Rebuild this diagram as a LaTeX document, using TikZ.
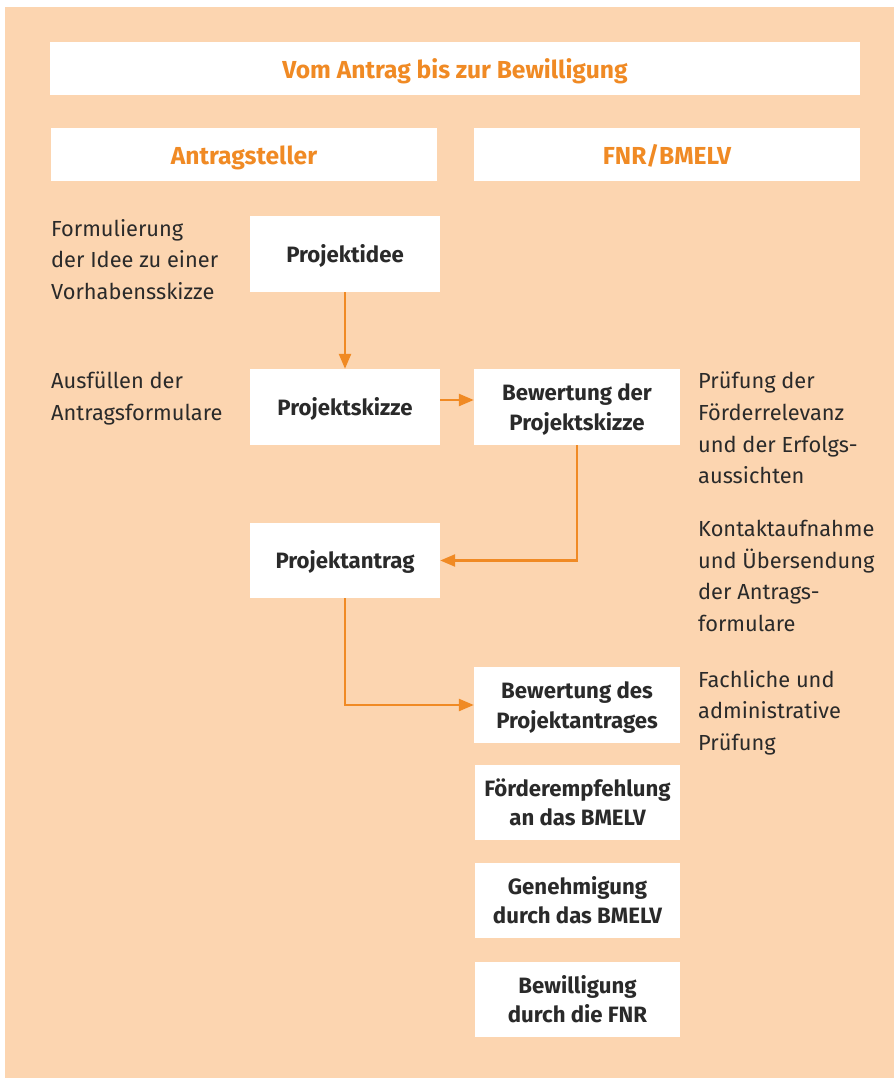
\documentclass[tikz,border=0pt]{standalone}
\usepackage{fontspec}
\setmainfont{Fira Sans}
\usepackage{xcolor}
\usetikzlibrary{arrows.meta}
\definecolor{peach}{HTML}{FCD5B0}
\definecolor{fnrorange}{HTML}{F08A24}
\definecolor{ink}{HTML}{2A2A2A}
% text in the white boxes sits a little below the middle
\newcommand{\boxtext}[2][4.9pt]{\raisebox{0pt}[\dimexpr\height+#1\relax]{\begin{tabular}{@{}c@{}}#2\end{tabular}}}

\begin{document}
\begin{tikzpicture}[x=1pt, y=-1pt,
    box/.style={fill=white, inner sep=0pt, text=ink,
      font=\fontsize{22.2}{29.5}\selectfont\bfseries},
    head/.style={fill=white, inner sep=0pt, text=fnrorange,
      minimum height=53pt, font=\fontsize{24.6}{28}\selectfont\bfseries},
    note/.style={anchor=north west, inner sep=0pt, align=left, text=ink,
      font=\fontsize{21.8}{31.6}\selectfont},
    flow/.style={draw=fnrorange, line width=2.5pt, -{Triangle[length=15pt, width=12pt]}}]
        \useasboundingbox (0, 0) rectangle (894, 1078);
        \fill[peach] (5, 7) rectangle (894, 1078);

        % headers
        \node[head, minimum width=810pt] (title) at (455, 68.5) {\boxtext[8.4pt]{Vom Antrag bis zur Bewilligung}};
        \node[head, minimum width=386pt] (left) at (244, 154.5) {\boxtext[8pt]{Antragsteller}};
        \node[head, minimum width=386pt] (right) at (667, 154.5) {\boxtext[8pt]{FNR/BMELV}};

        % Antragsteller
        \node[box, minimum width=190pt, minimum height=76pt] (idee) at (345, 254) {\boxtext{Projektidee}};
        \node[box, minimum width=190pt, minimum height=76pt] (skizze) at (345, 407) {\boxtext{Projektskizze}};
        \node[box, minimum width=190pt, minimum height=75pt] (antrag) at (345, 560.5) {\boxtext{Projektantrag}};

        % FNR/BMELV
        \node[box, minimum width=206pt, minimum height=76pt] (bewskizze) at (577, 407) {\boxtext{Bewertung der\\Projektskizze}};
        \node[box, minimum width=206pt, minimum height=76pt] (bewantrag) at (577, 705) {\boxtext{Bewertung des\\Projektantrages}};
        \node[box, minimum width=205pt, minimum height=75pt] (foerder) at (577.5, 802.5) {\boxtext{Förderempfehlung\\an das BMELV}};
        \node[box, minimum width=205pt, minimum height=75pt] (genehm) at (577.5, 900.5) {\boxtext{Genehmigung\\durch das BMELV}};
        \node[box, minimum width=205pt, minimum height=75pt] (bewill) at (577.5, 999.5) {\boxtext{Bewilligung\\durch die FNR}};

        % notes
        \node[note] (n1) at (51, 219) {Formulierung\\der Idee zu einer\\Vorhabensskizze};
        \node[note] (n2) at (51, 372) {Ausfüllen der\\Antragsformulare};
        \node[note] (n3) at (698, 372) {Prüfung der\\Förderrelevanz\\und der Erfolgs-\\aussichten};
        \node[note] (n4) at (698, 520) {Kontaktaufnahme\\und Übersendung\\der Antrags-\\formulare};
        \node[note] (n5) at (698, 670) {Fachliche und\\administrative\\Prüfung};

        % arrows
        \draw[flow] (idee) -- (skizze);
        \draw[flow] ([yshift=7pt]skizze.east) -- ([yshift=7pt]bewskizze.west);
        \draw[flow] (bewskizze.south) |- (antrag.east);
        \draw[flow] (antrag.south) |- (bewantrag.west);
    \end{tikzpicture}
\end{document}
